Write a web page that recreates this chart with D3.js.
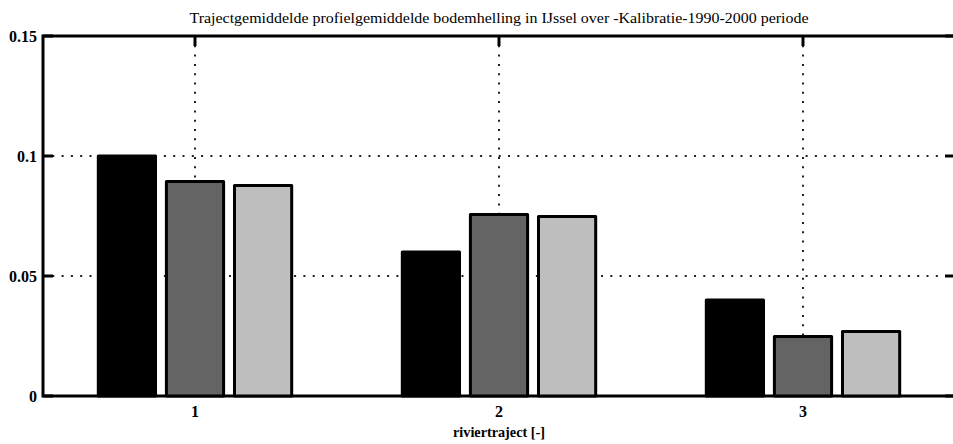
<!DOCTYPE html>
<html>
<head>
<meta charset="utf-8">
<script src="https://cdn.jsdelivr.net/npm/d3@7"></script>
<style>
  html, body { margin: 0; padding: 0; background: #fff; }
  svg { display: block; }
</style>
</head>
<body>
<svg id="chart" width="953" height="444"></svg>
<script>
// River reaches (x categories) and the three bar series per reach
const categories = [1, 2, 3];
const seriesNames = ["s1", "s2", "s3"];
const seriesColors = ["#000000", "#646464", "#bebebe"];
const valuesS1 = [0.100, 0.060, 0.040];
const valuesS2 = [0.0894, 0.0756, 0.0248];
const valuesS3 = [0.0877, 0.0748, 0.0269];
const yTicks = [0, 0.05, 0.1, 0.15];
const yTickLabels = ["0", "0.05", "0.1", "0.15"];
const xTickLabels = ["1", "2", "3"];
const titleText = "Trajectgemiddelde profielgemiddelde bodemhelling in IJssel over -Kalibratie-1990-2000 periode";
const xLabelText = "riviertraject [-]";

const seriesValues = [valuesS1, valuesS2, valuesS3];

const m = { left: 43, top: 36, right: 955, bottom: 396 };

const svg = d3.select("#chart");
const serif = "'Liberation Serif', 'Times New Roman', Times, serif";

const x = d3.scaleLinear().domain([0.5, 3.5]).range([m.left, m.right]);
const y = d3.scaleLinear().domain([0, 0.15]).range([m.bottom, m.top]);

// Bars inside a group
const groupW = (x(1.5) - x(0.5)) * 0.672;
const inner = d3.scaleBand().domain(seriesNames)
  .range([-groupW / 2, groupW / 2]).paddingInner(0.16).paddingOuter(0.08);

// Dotted grid lines (behind the bars)
const grid = svg.append("g")
  .attr("stroke", "#222").attr("stroke-width", 2)
  .attr("stroke-dasharray", "2,7.3").attr("fill", "none");
yTicks.filter(v => v > 0 && v < 0.15).forEach(v => {
  grid.append("line").attr("x1", m.left).attr("x2", m.right)
    .attr("y1", y(v)).attr("y2", y(v));
});
categories.forEach(c => {
  grid.append("line").attr("x1", x(c)).attr("x2", x(c))
    .attr("y1", m.top).attr("y2", m.bottom);
});

// Inward tick marks on all four sides
const ticks = svg.append("g").attr("stroke", "#000").attr("stroke-width", 3);
const tl = 10;
yTicks.forEach(v => {
  ticks.append("line").attr("x1", m.left).attr("x2", m.left + tl).attr("y1", y(v)).attr("y2", y(v));
  ticks.append("line").attr("x1", m.right).attr("x2", m.right - tl).attr("y1", y(v)).attr("y2", y(v));
});
categories.forEach(c => {
  ticks.append("line").attr("x1", x(c)).attr("x2", x(c)).attr("y1", m.top).attr("y2", m.top + tl);
  ticks.append("line").attr("x1", x(c)).attr("x2", x(c)).attr("y1", m.bottom).attr("y2", m.bottom - tl);
});

// Axes frame
svg.append("rect")
  .attr("x", m.left).attr("y", m.top)
  .attr("width", m.right - m.left).attr("height", m.bottom - m.top)
  .attr("fill", "none").attr("stroke", "#000").attr("stroke-width", 3);

// Bars
const bars = svg.append("g");
categories.forEach((c, ci) => {
  seriesNames.forEach((s, si) => {
    const v = seriesValues[si][ci];
    bars.append("rect")
      .attr("x", x(c) + inner(s))
      .attr("y", y(v))
      .attr("width", inner.bandwidth())
      .attr("height", y(0) - y(v))
      .attr("fill", seriesColors[si])
      .attr("stroke", "#000")
      .attr("stroke-width", 3)
      .attr("stroke-linejoin", "round");
  });
});

// Y tick labels
svg.append("g").selectAll("text").data(yTicks).join("text")
  .attr("x", m.left - 6).attr("y", d => y(d))
  .attr("dy", "0.35em").attr("text-anchor", "end")
  .attr("font-family", serif).attr("font-weight", "bold").attr("font-size", 16)
  .text((d, i) => yTickLabels[i]);

// X tick labels
svg.append("g").selectAll("text").data(categories).join("text")
  .attr("x", d => x(d)).attr("y", m.bottom + 21)
  .attr("text-anchor", "middle")
  .attr("font-family", serif).attr("font-weight", "bold").attr("font-size", 16)
  .text((d, i) => xTickLabels[i]);

// X axis label
svg.append("text")
  .attr("x", x(2)).attr("y", m.bottom + 41)
  .attr("text-anchor", "middle")
  .attr("font-family", serif).attr("font-weight", "bold").attr("font-size", 15)
  .attr("textLength", 92).attr("lengthAdjust", "spacingAndGlyphs")
  .text(xLabelText);

// Title
svg.append("text")
  .attr("x", x(2)).attr("y", 23)
  .attr("text-anchor", "middle")
  .attr("font-family", serif).attr("font-size", 15)
  .attr("textLength", 619).attr("lengthAdjust", "spacingAndGlyphs")
  .text(titleText);
</script>
</body>
</html>
